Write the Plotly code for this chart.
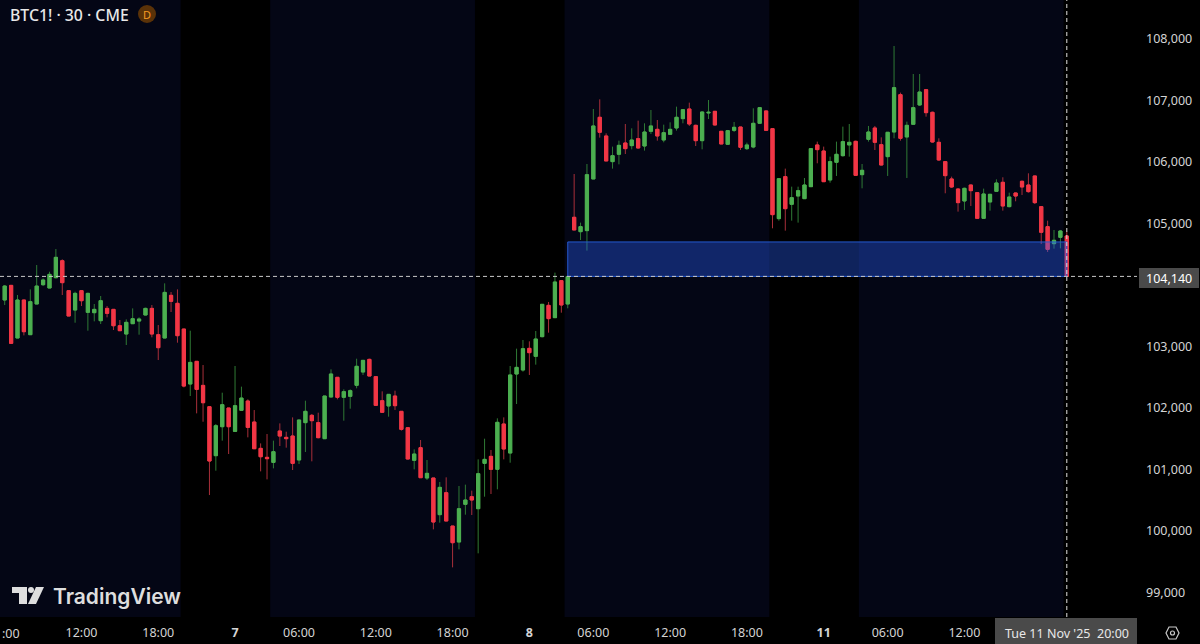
import plotly.graph_objects as go

opens = [
103756,103994,103138,103756,103192,103691,104005,103951,104119,104395,
103908,103593,103908,103555,103550,103420,103620,103604,103338,103203,
103371,103414,103512,103620,103192,103138,103832,103702,103284,102390,
102759,102368,102021,101225,101696,102000,101620,101962,102114,101772,
101344,101198,101116,101626,101523,101545,101155,101762,101881,101762,
101501,102179,102499,102174,102190,102369,102585,102791,102510,102119,
102033,102195,101946,101680,101149,101355,100862,100862,100266,100623,
100081,99821,100434,100558,100363,101100,101214,101003,101740,101268,
102553,102618,102970,102840,103160,103669,103469,104071,103691,105101,
104867,104884,105724,106727,106423,106006,106125,106309,106266,106380,
106260,106499,106531,106358,106450,106553,106705,106862,106596,106347,
106797,106824,106499,106288,106515,106569,106217,106244,106629,106830,
106542,105079,105762,105312,105447,105404,105599,106277,106179,105708,
105995,106103,106277,106336,105794,106369,106553,106282,106087,106488,
107095,106407,106613,106927,107176,106808,106320,106006,105724,105561,
105366,105626,105502,105084,105350,105523,105670,105274,105496,105686,
105626,105773,105274,104949,104672,104775,104797]
highs = [
104000,103994,103837,103756,103929,104325,104108,104216,104585,104417,
103908,103891,103918,103875,103691,103821,103658,103604,103431,103441,
103620,103474,103631,103674,103349,104027,103886,103929,103284,103257,
102759,102699,102021,101740,102249,102000,102683,102347,102141,101967,
101425,101577,101469,101750,101615,101848,101805,102119,101903,101924,
102195,102629,102499,102304,102304,102802,102781,102802,102510,102271,
102228,102282,101946,101686,101328,101480,101155,100862,100797,100873,
100081,100732,100754,100656,101165,101501,101317,101832,101848,102683,
102965,103106,103084,103252,103686,103724,104201,104081,104157,105805,
105014,105968,106862,107019,106466,106250,106347,106618,106548,106672,
106629,106846,106683,106607,106645,106900,106857,106965,106607,106824,
107008,106824,106499,106521,106651,106569,106315,106873,106889,106835,
106542,105740,105892,105599,105599,105740,106223,106331,106250,106087,
106331,106575,106618,106347,105968,106586,106586,106401,106488,107886,
107128,106656,107431,107431,107176,106819,106385,106006,105762,105572,
105583,105632,105502,105567,105480,105718,105751,105502,105502,105697,
105816,105773,105285,105046,104895,104895,104867]
lows = [
103674,103051,103138,103181,103192,103691,103983,103951,104108,103837,
103496,103387,103658,103257,103409,103366,103474,103268,103257,103024,
103366,103192,103507,103149,102780,103138,103561,103062,102336,102195,
101913,101777,100585,100981,101469,101252,101620,101956,101523,101338,
100970,100840,101019,101382,101355,100992,101090,101285,101133,101507,
101501,102179,102141,101794,101989,102320,102537,102520,102033,101924,
101859,101968,101632,101165,101003,100862,100829,100027,100136,100163,
99409,99702,100266,100260,99637,100558,100602,100678,101165,101111,
102065,102591,102537,102705,103149,103225,103469,103550,103621,104895,
104732,104559,105724,106396,106017,105892,105962,106130,106206,106217,
106185,106456,106347,106320,106445,106510,106629,106586,106260,106206,
106699,106596,106293,106288,106488,106195,106195,106222,106624,106510,
104922,105046,104884,105046,105014,105404,105599,105979,105680,105664,
105773,106087,106087,105777,105572,106331,106195,105946,105773,106385,
106347,105740,106613,106911,106737,106315,106022,105491,105578,105193,
105220,105285,105079,105079,105209,105512,105209,105263,105361,105464,
105502,105317,104667,104537,104591,104596,104140]
closes = [
103983,103051,103756,103241,103729,103983,104081,104173,104450,104038,
103496,103864,103745,103864,103604,103745,103539,103338,103257,103393,
103452,103447,103620,103203,102981,103880,103734,103176,102357,102742,
102303,102086,101138,101712,102054,101696,102038,102162,101685,101338,
101208,101176,101290,101544,101501,101100,101805,101946,101794,101518,
102195,102553,102174,102266,102282,102678,102775,102520,102043,101930,
102222,102038,101653,101171,101252,100867,100938,100146,100710,100163,
99810,100363,100504,100504,100932,101165,101003,101767,101333,102537,
102661,102965,102900,103122,103686,103453,104049,103675,104136,104895,
104949,105794,106586,106483,106017,106103,106271,106217,106358,106228,
106488,106586,106423,106477,106531,106727,106851,106618,106347,106813,
106808,106602,106293,106510,106564,106239,106277,106629,106884,106515,
105144,105729,105241,105420,105534,105626,106217,106201,105680,106006,
106125,106331,106320,105783,105865,106488,106320,105951,106483,107209,
106385,106596,106884,107138,106802,106325,106033,105778,105594,105339,
105572,105534,105084,105480,105475,105659,105285,105431,105447,105594,
105518,105339,104857,104580,104727,104878,104140]

tick_idx = [12, 24, 36, 46, 58, 70, 82, 92, 104, 116, 128, 138, 150]
tick_text = ["12:00", "18:00", "<b>7</b>", "06:00", "12:00", "18:00",
             "<b>8</b>", "06:00", "12:00", "18:00", "<b>11</b>", "06:00", "12:00"]
price_ticks = [99000, 100000, 101000, 102000, 103000, 105000, 106000, 107000, 108000]
session_bands = [(-1.5, 27.5), (41.5, 73.5), (87.5, 119.5), (133.5, 165.5)]
zone_start, zone_end, zone_low, zone_high = 88, 166, 104140, 104700
last_price, last_idx = 104140, 166

W, H = 1200, 644
ML, MR, MT, MB = 0, 63, 0, 27
PW, PH = W - ML - MR, H - MT - MB
FONT = "Noto Sans"
xs = list(range(len(opens)))
GREEN, RED = "#4CAF50", "#F23645"
GREEN_W, RED_W = "#2f7a35", "#a82f3a"


def px(x):
    return (x - ML) / PW


def py(y):
    return 1 - (y - MT) / PH


def pth(pts):
    return "M " + " L ".join(f"{px(a):.5f} {py(b):.5f}" for a, b in pts) + " Z"


fig = go.Figure()
fig.add_trace(go.Candlestick(
    x=xs, open=opens, high=highs, low=lows, close=closes, whiskerwidth=0,
    increasing=dict(line=dict(color=GREEN_W, width=1), fillcolor=GREEN),
    decreasing=dict(line=dict(color=RED_W, width=1), fillcolor=RED),
    showlegend=False, hoverinfo="skip"))
fig.add_trace(go.Candlestick(
    x=xs, open=opens, close=closes,
    high=[max(o, c) for o, c in zip(opens, closes)],
    low=[min(o, c) for o, c in zip(opens, closes)], whiskerwidth=0,
    increasing=dict(line=dict(color=GREEN, width=1), fillcolor=GREEN),
    decreasing=dict(line=dict(color=RED, width=1), fillcolor=RED),
    showlegend=False, hoverinfo="skip"))

shapes = []
for a, b in session_bands:
    shapes.append(dict(type="rect", xref="x", yref="paper", x0=a, x1=b, y0=0, y1=1,
                       fillcolor="#040615", line_width=0, layer="below"))
shapes.append(dict(type="rect", xref="x", yref="y", x0=zone_start, x1=zone_end,
                   y0=zone_low, y1=zone_high, fillcolor="rgba(41,98,255,0.36)",
                   line=dict(color="#2459cf", width=1), layer="above"))
shapes.append(dict(type="line", xref="paper", yref="y", x0=0, x1=1, y0=last_price, y1=last_price,
                   line=dict(color="#c9c9c9", width=1, dash="4px,3px"), layer="above"))
shapes.append(dict(type="line", xref="x", yref="paper", x0=last_idx, x1=last_idx, y0=0, y1=1,
                   line=dict(color="#e0e0e0", width=1, dash="4px,3px"), layer="above"))
# price and time badges
shapes.append(dict(type="rect", xref="paper", yref="paper", x0=px(1139), x1=px(1199), y0=py(288), y1=py(268),
                   fillcolor="#4a4a4a", line_width=0, layer="above"))
shapes.append(dict(type="rect", xref="paper", yref="paper", x0=px(995), x1=px(1137), y0=py(644), y1=py(618),
                   fillcolor="#4a4a4a", line_width=0, layer="above"))
# status dot
shapes.append(dict(type="circle", xref="paper", yref="paper", x0=px(138), x1=px(156), y0=py(23), y1=py(5),
                   fillcolor="#5a3208", line_width=0, layer="above"))
# logo mark
logo = "#dedede"
shapes.append(dict(type="path", xref="paper", yref="paper", fillcolor=logo, line_width=0, layer="above",
                   path=pth([(12, 587), (27, 587), (27, 604), (19, 604), (19, 593), (12, 593)])))
shapes.append(dict(type="circle", xref="paper", yref="paper", x0=px(28), x1=px(34), y0=py(593), y1=py(587),
                   fillcolor=logo, line_width=0, layer="above"))
shapes.append(dict(type="path", xref="paper", yref="paper", fillcolor=logo, line_width=0, layer="above",
                   path=pth([(36, 587), (44, 587), (36, 604), (28, 604)])))
# settings icon
shapes.append(dict(type="path", xref="paper", yref="paper", fillcolor="rgba(0,0,0,0)",
                   line=dict(color="#c8c8c8", width=1.2), layer="above",
                   path=pth([(1166, 633), (1169, 627), (1176, 627), (1179, 633), (1176, 639), (1169, 639)])))
shapes.append(dict(type="circle", xref="paper", yref="paper", x0=px(1170.5), x1=px(1174.5), y0=py(635), y1=py(631),
                   line=dict(color="#c8c8c8", width=1.2), layer="above"))

annos = [
    dict(x=px(9), y=py(15), text="BTC1! · 30 · CME", font=dict(size=15.8, color="#e8e8e8", family=FONT, weight=500),
         xanchor="left", yanchor="middle"),
    dict(x=px(147), y=py(14), text="D", font=dict(size=11, color="#f59a23", family=FONT),
         xanchor="center", yanchor="middle"),
    dict(x=px(1169), y=py(278), text="104,140", font=dict(size=12.5, color="#ffffff", family=FONT),
         xanchor="center", yanchor="middle"),
    dict(x=px(1004), y=py(633), text="Tue 11 Nov '25", font=dict(size=12.5, color="#e8e8e8", family=FONT),
         xanchor="left", yanchor="middle"),
    dict(x=px(1113), y=py(633), text="20:00", font=dict(size=12.5, color="#e8e8e8", family=FONT),
         xanchor="center", yanchor="middle"),
    dict(x=px(52), y=py(596), text="TradingView", font=dict(size=21, color=logo, family="Inter", weight=600),
         xanchor="left", yanchor="middle"),
    dict(x=px(1), y=py(633), text=":00", font=dict(size=12.5, color="#d4d4d4", family=FONT),
         xanchor="left", yanchor="middle"),
]
for a in annos:
    a.update(xref="paper", yref="paper", showarrow=False, borderpad=0)

fig.update_layout(
    width=W, height=H, margin=dict(l=ML, r=MR, t=MT, b=MB),
    paper_bgcolor="#000000", plot_bgcolor="#000000",
    boxmode="overlay", boxgap=0.28, showlegend=False,
    shapes=shapes, annotations=annos,
    xaxis=dict(range=[-0.735, 176.97], tickmode="array", tickvals=tick_idx, ticktext=tick_text,
               showgrid=False, zeroline=False, showline=False, ticks="",
               rangeslider=dict(visible=False), ticklabelstandoff=6,
               tickfont=dict(size=12.5, color="#d4d4d4", family=FONT)),
    yaxis=dict(range=[98602, 108634], side="right", tickmode="array", tickvals=price_ticks,
               tickformat=",d", showgrid=False, zeroline=False, showline=False, ticks="",
               ticklabelstandoff=8, tickfont=dict(size=12.5, color="#d4d4d4", family=FONT)),
)

fig.write_html("out.html", post_script="document.body.style.margin='0';",
               config=dict(displayModeBar=False))
